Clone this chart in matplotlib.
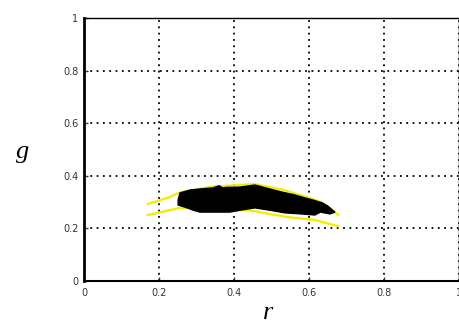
import matplotlib
matplotlib.use('Agg')
import matplotlib.pyplot as plt

# blob outline (r, g), going over the top then back along the bottom
blob_r = [0.251, 0.256, 0.283, 0.310, 0.344, 0.360, 0.370, 0.380, 0.416, 0.456, 0.490,
          0.528, 0.560, 0.589, 0.615, 0.635, 0.650, 0.669,
          0.656, 0.630, 0.616, 0.580, 0.536, 0.500, 0.456, 0.420, 0.389,
          0.350, 0.309, 0.290, 0.269, 0.251]
blob_g = [0.308, 0.335, 0.346, 0.350, 0.354, 0.362, 0.354, 0.356, 0.357, 0.365, 0.352,
          0.338, 0.328, 0.316, 0.306, 0.297, 0.285, 0.262,
          0.255, 0.262, 0.251, 0.255, 0.259, 0.268, 0.278, 0.270, 0.262,
          0.262, 0.262, 0.270, 0.281, 0.289]

# yellow boundary curves
upper_r = [0.171, 0.229, 0.256, 0.344, 0.456, 0.528, 0.589, 0.635, 0.677]
upper_g = [0.293, 0.319, 0.337, 0.359, 0.368, 0.348, 0.321, 0.299, 0.252]
lower_r = [0.171, 0.256, 0.336, 0.443, 0.544, 0.616, 0.677]
lower_g = [0.251, 0.278, 0.276, 0.268, 0.243, 0.232, 0.209]

ticks = [0, 0.2, 0.4, 0.6, 0.8, 1]
tick_labels = ['0', '0.2', '0.4', '0.6', '0.8', '1']

fig = plt.figure(figsize=(4.6, 3.25), dpi=100)
ax = fig.add_axes([84 / 460, 1 - 281 / 325, 375 / 460, 263 / 325])

ax.fill(blob_r, blob_g, color='black', zorder=3)
ax.plot(upper_r, upper_g, color='#f2ee00', lw=1.7, zorder=2)
ax.plot(lower_r, lower_g, color='#f2ee00', lw=1.7, zorder=2)

ax.set_xlim(0, 1)
ax.set_ylim(0, 1)
ax.set_xticks(ticks)
ax.set_yticks(ticks)
ax.set_xticklabels(tick_labels)
ax.set_yticklabels(tick_labels)
ax.tick_params(direction='in', length=3, width=1, labelsize=7, colors='#333333')
ax.tick_params(axis='x', pad=5)
ax.tick_params(axis='y', pad=4)

ax.grid(True, color='black', linestyle=(0, (1, 2.5)), linewidth=1.3)
ax.set_axisbelow(True)

ax.spines['left'].set_linewidth(2)
ax.spines['bottom'].set_linewidth(1.5)
ax.spines['top'].set_linewidth(1)
ax.spines['right'].set_linewidth(1)

ax.set_xlabel('r', fontsize=19, family='Liberation Serif', style='italic')
ax.set_ylabel('g', fontsize=19, family='Liberation Serif', style='italic', rotation=0)
ax.xaxis.set_label_coords(0.49, -0.08)
ax.yaxis.set_label_coords(-0.165, 0.49)
ax.xaxis.label.set_va('top')
ax.yaxis.label.set_va('center')

fig.savefig('out.png', dpi=100)
